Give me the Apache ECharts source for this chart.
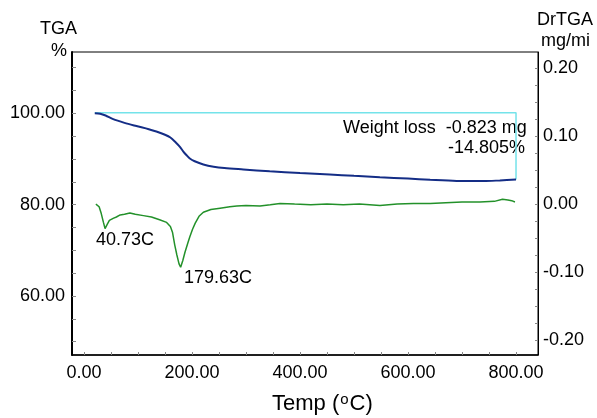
<!DOCTYPE html>
<html>
<head>
<meta charset="utf-8">
<script src="https://cdn.jsdelivr.net/npm/echarts@6/dist/echarts.min.js"></script>
<style>html,body{margin:0;padding:0;background:#fff;}#c{width:597px;height:418px;}</style>
</head>
<body>
<div id="c"></div>
<script>
// Temperature (°C) / TGA (%)
const tgaTemp = [20, 30, 40, 54, 75, 97, 120, 134, 150, 160, 170, 178, 184, 190, 196, 205, 221, 240, 260, 295, 344, 400, 455, 500, 548, 600, 641, 690, 740, 770, 800];
const tgaVal  = [100.0, 99.9, 99.5, 98.7, 97.9, 97.2, 96.5, 96.0, 95.3, 94.7, 93.6, 92.6, 91.6, 90.8, 90.1, 89.5, 88.8, 88.3, 88.0, 87.7, 87.3, 86.9, 86.6, 86.3, 86.0, 85.7, 85.45, 85.2, 85.15, 85.3, 85.5];
// DrTGA (mg/min)
const drTemp = [22, 25, 28, 32, 36, 39, 43, 47, 50, 54, 60, 67, 75, 85, 95, 110, 125, 140, 153, 160, 164, 168, 172, 176, 179, 183, 187, 192, 196, 201, 206, 213, 221, 235, 252, 270, 283, 300, 326, 345, 363, 390, 420, 450, 480, 510, 548, 580, 610, 641, 670, 700, 733, 760, 775, 785, 792, 798];
const drVal  = [0.000, 0.002, -0.004, -0.014, -0.027, -0.036, -0.030, -0.024, -0.026, -0.021, -0.019, -0.016, -0.015, -0.013, -0.015, -0.017, -0.019, -0.023, -0.027, -0.033, -0.042, -0.060, -0.075, -0.088, -0.093, -0.083, -0.071, -0.058, -0.048, -0.037, -0.028, -0.018, -0.012, -0.008, -0.006, -0.004, -0.003, -0.002, -0.003, -0.001, 0.001, 0.000, -0.001, 0.000, -0.001, 0.000, -0.002, 0.000, 0.001, 0.001, 0.002, 0.003, 0.003, 0.004, 0.007, 0.006, 0.005, 0.003];
// Weight loss marker
const lossTemp = [20, 800, 800];
const lossVal  = [100.1, 100.1, 85.5];
// Tick labels
const xLabels = [0, 200, 400, 600, 800];
const xTicks = [0, 50, 100, 150, 200, 250, 300, 350, 400, 450, 500, 550, 600, 650, 700, 750, 800];
const yLLabels = [60, 80, 100];
const yLTicks = [50, 55, 60, 65, 70, 75, 80, 85, 90, 95, 100, 105, 110];
const yRLabels = [-0.2, -0.1, 0, 0.1, 0.2];
const yRTicks = [-0.2, -0.175, -0.15, -0.125, -0.1, -0.075, -0.05, -0.025, 0, 0.025, 0.05, 0.075, 0.1, 0.125, 0.15, 0.175, 0.2];
const peakLabels = ['40.73C', '179.63C'];
const lossText = ['Weight loss  -0.823 mg', '-14.805%'];

const F = 'Liberation Sans, Arial, sans-serif';
const zip = (a, b) => a.map((v, i) => [v, b[i]]);

const chart = echarts.init(document.getElementById('c'), null, {renderer: 'canvas'});
chart.setOption({
  animation: false,
  backgroundColor: '#fff',
  grid: {left: 72, right: 59, top: 52, bottom: 63, show: true, borderColor: '#000', borderWidth: 1, backgroundColor: 'transparent'},
  xAxis: {
    type: 'value', min: -22.2, max: 840.7,
    axisLine: {show: true, onZero: false, lineStyle: {color: '#000', width: 1.5}},
    axisTick: {show: true, inside: true, length: 3, customValues: xTicks, lineStyle: {color: '#888'}},
    axisLabel: {customValues: xLabels, color: '#000', fontSize: 18, fontFamily: F, margin: 9, formatter: v => v.toFixed(2)},
    splitLine: {show: false}
  },
  yAxis: [{
    type: 'value', min: 47.1, max: 113.4, position: 'left',
    axisLine: {show: true, onZero: false, lineStyle: {color: '#000', width: 2}},
    axisTick: {show: true, inside: true, length: 4, customValues: yLTicks, lineStyle: {color: '#888'}},
    axisLabel: {customValues: yLLabels, color: '#000', fontSize: 18, fontFamily: F, margin: 7, formatter: v => v.toFixed(2)},
    splitLine: {show: false}
  }, {
    type: 'value', min: -0.2222, max: 0.2239, position: 'right',
    axisLine: {show: true, onZero: false, lineStyle: {color: '#000', width: 1}},
    axisTick: {show: true, inside: true, length: 3, customValues: yRTicks, lineStyle: {color: '#888'}},
    axisLabel: {customValues: yRLabels, color: '#000', fontSize: 18, fontFamily: F, margin: 5, formatter: v => v.toFixed(2)},
    splitLine: {show: false}
  }],
  series: [{
    type: 'line', yAxisIndex: 0, data: zip(lossTemp, lossVal), showSymbol: false,
    lineStyle: {color: '#74e3ea', width: 1.5}, z: 2
  }, {
    type: 'line', yAxisIndex: 0, data: zip(tgaTemp, tgaVal), showSymbol: false, smooth: 0.3,
    lineStyle: {color: '#142d86', width: 2}, z: 3
  }, {
    type: 'line', yAxisIndex: 1, data: zip(drTemp, drVal), showSymbol: false,
    lineStyle: {color: '#23912a', width: 1.5}, z: 3
  }],
  graphic: [
    {type: 'text', left: 40, top: 20, style: {text: 'TGA', font: '18px ' + F, fill: '#000'}},
    {type: 'text', left: 51, top: 42, style: {text: '%', font: '18px ' + F, fill: '#000'}},
    {type: 'text', left: 537, top: 11, style: {text: 'DrTGA', font: '18px ' + F, fill: '#000'}},
    {type: 'text', left: 541, top: 32, style: {text: 'mg/mi', font: '18px ' + F, fill: '#000'}},
    {type: 'text', left: 343, top: 119, style: {text: lossText[0], font: '18px ' + F, fill: '#000'}},
    {type: 'text', left: 448, top: 139, style: {text: lossText[1], font: '18px ' + F, fill: '#000'}},
    {type: 'text', left: 96, top: 231, style: {text: peakLabels[0], font: '18px ' + F, fill: '#000'}},
    {type: 'text', left: 184, top: 269, style: {text: peakLabels[1], font: '18px ' + F, fill: '#000'}},
    {type: 'text', left: 272, top: 392, style: {
      text: 'Temp ({s|o}C)', font: '22px ' + F, fill: '#000',
      rich: {s: {fontSize: 15, fontFamily: F, verticalAlign: 'top', padding: [0, 1, 8, 1]}}
    }}
  ]
});
</script>
</body>
</html>
